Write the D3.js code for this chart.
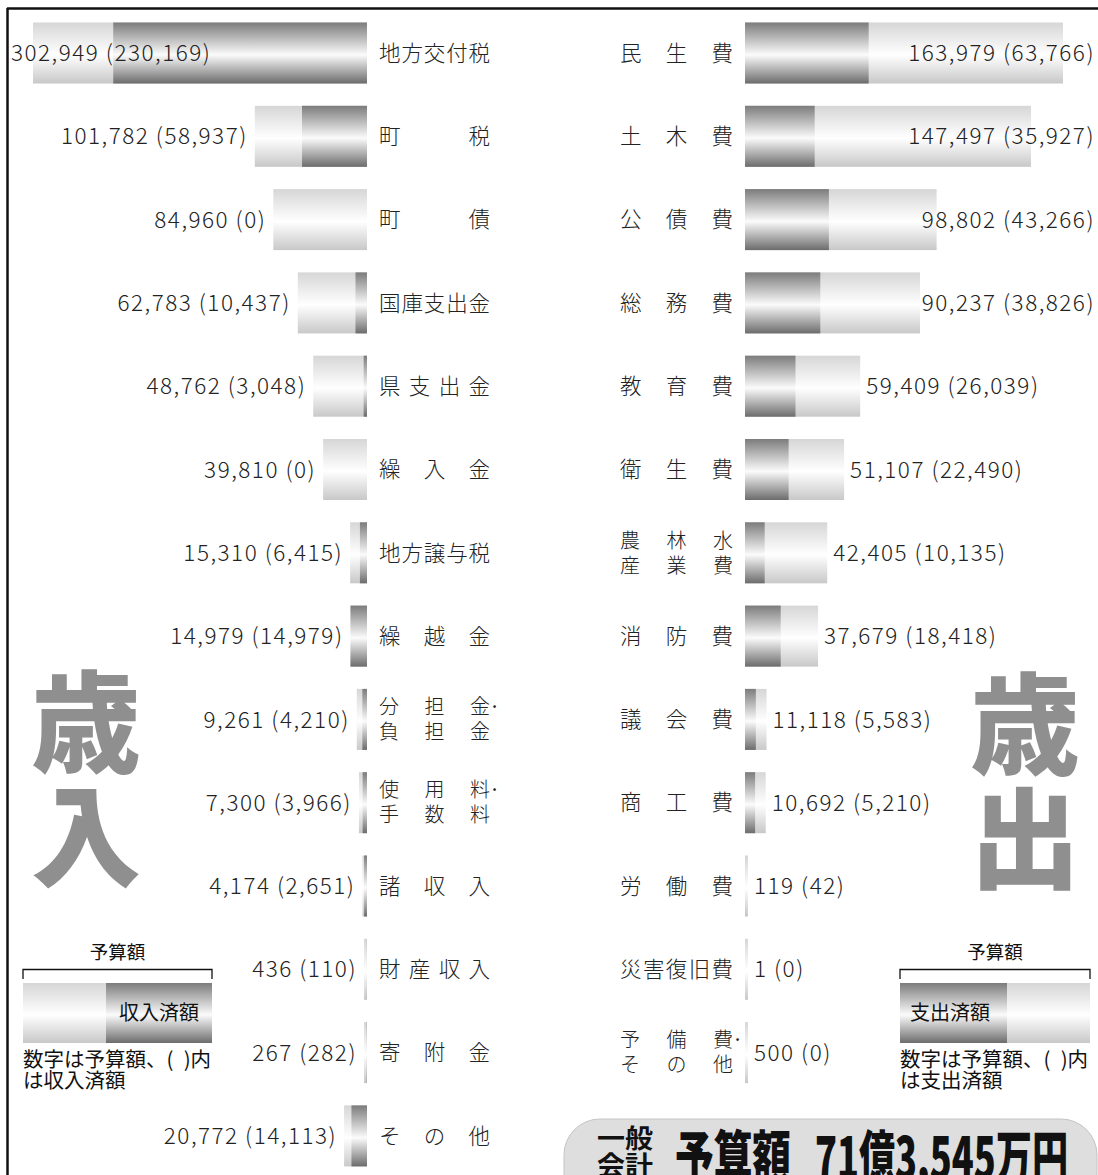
<!DOCTYPE html>
<html><head><meta charset="utf-8">
<script src="https://cdn.jsdelivr.net/npm/d3@7"></script>
<style>
html,body{margin:0;padding:0;background:#fff;}
svg{display:block;font-family:"Noto Sans CJK JP","Noto Sans",sans-serif;}
</style></head>
<body>
<svg id="chart" width="1098" height="1175"></svg>
<script>
// ---- data ----
const revenueCats = ["地方交付税","町税","町債","国庫支出金","県支出金","繰入金","地方譲与税","繰越金","分担金・負担金","使用料・手数料","諸収入","財産収入","寄附金","その他"];
const revenueLabelLines = [["地方交付税"],["町税"],["町債"],["国庫支出金"],["県支出金"],["繰入金"],["地方譲与税"],["繰越金"],["分担金·","負担金"],["使用料·","手数料"],["諸収入"],["財産収入"],["寄附金"],["その他"]];
const revenueBudget = [302949,101782,84960,62783,48762,39810,15310,14979,9261,7300,4174,436,267,20772];
const revenueDone   = [230169,58937,0,10437,3048,0,6415,14979,4210,3966,2651,110,282,14113];

const expenseCats = ["民生費","土木費","公債費","総務費","教育費","衛生費","農林水産業費","消防費","議会費","商工費","労働費","災害復旧費","予備費・その他"];
const expenseLabelLines = [["民生費"],["土木費"],["公債費"],["総務費"],["教育費"],["衛生費"],["農林水","産業費"],["消防費"],["議会費"],["商工費"],["労働費"],["災害復旧費"],["予備費·","その他"]];
const expenseBudget = [163979,147497,98802,90237,59409,51107,42405,37679,11118,10692,119,1,500];
const expenseDone   = [63766,35927,43266,38826,26039,22490,10135,18418,5583,5210,42,0,0];

const totalTitle = "予算額";
const totalValue = "71億3,545万円";
const accountLines = ["一般","会計"];

// ---- layout ----
const svg = d3.select("#chart");
const fmt = d3.format(",");

const defs = svg.append("defs");
function grad(id, stops){
  const g = defs.append("linearGradient").attr("id",id).attr("x1",0).attr("y1",0).attr("x2",0).attr("y2",1);
  stops.forEach(s=>g.append("stop").attr("offset",s[0]).attr("stop-color",s[1]));
}
grad("gDark",[[0,"#7c7c7c"],[0.53,"#fbfbfb"],[1,"#6c6c6c"]]);
grad("gLight",[[0,"#d6d6d6"],[0.53,"#ffffff"],[1,"#c8c8c8"]]);

// frame
svg.append("line").attr("x1",7).attr("x2",1098).attr("y1",8.5).attr("y2",8.5).attr("stroke","#111").attr("stroke-width",2.5);
svg.append("line").attr("x1",7.5).attr("x2",7.5).attr("y1",8).attr("y2",1175).attr("stroke","#111").attr("stroke-width",2.5);

const rowY = d3.scaleLinear().domain([0,1]).range([53, 136.3]);
const barH = 61;

const xRev = d3.scaleLinear().domain([0, d3.max(revenueBudget)]).range([0, 334]);
const xExp = d3.scaleLinear().domain([0, d3.max(expenseBudget)]).range([0, 318]);

const revRight = 367;   // bars grow leftwards from here
const expLeft = 745;    // bars grow rightwards from here
const numFS = 22.5;

function drawLabel(g, lines, x0, spanW, cy, fsSingle, fsDouble){
  const fs = lines.length > 1 ? fsDouble : fsSingle;
  const lh = 25;
  lines.forEach((ln, li)=>{
    let dot = "";
    let s = ln;
    if (s.endsWith("·")) { dot = "·"; s = s.slice(0,-1); }
    const chars = Array.from(s);
    const n = chars.length;
    const cw = fs;
    const step = n > 1 ? (spanW - cw)/(n-1) : 0;
    const y = cy + (lines.length>1 ? (li - 0.5)*lh : 0);
    chars.forEach((c,i)=>{
      g.append("text").attr("x", x0 + i*step).attr("y", y).attr("dy","0.36em")
        .attr("font-size",fs).attr("font-weight",300).attr("fill","#222").text(c);
    });
    if (dot) {
      g.append("text").attr("x", x0 + (n-1)*step + cw - 1).attr("y", y).attr("dy","0.36em")
        .attr("font-size",fs).attr("fill","#222").text(dot);
    }
  });
}
function numText(g, b, d, cy){
  return g.append("text").attr("y", cy).attr("dy","0.36em").attr("font-size",numFS).attr("font-weight",300)
    .attr("letter-spacing",1.5).attr("fill","#222").text(`${fmt(b)} (${fmt(d)})`);
}

// revenue (left)
const rev = svg.append("g");
revenueCats.forEach((cat,i)=>{
  const cy = rowY(i);
  const w = Math.max(xRev(revenueBudget[i]), 3);
  const wd = Math.min(xRev(revenueDone[i]), xRev(revenueBudget[i]));
  rev.append("rect").attr("x", revRight - w).attr("y", cy - barH/2).attr("width", w).attr("height", barH).attr("fill","url(#gLight)");
  if (wd > 0) rev.append("rect").attr("x", revRight - wd).attr("y", cy - barH/2).attr("width", wd).attr("height", barH).attr("fill","url(#gDark)");
  const t = numText(rev, revenueBudget[i], revenueDone[i], cy);
  const tl = t.node().getComputedTextLength();
  let xe = revRight - w - 7;
  if (xe - tl < 10) { t.attr("x", 11).attr("text-anchor","start"); }
  else t.attr("x", xe).attr("text-anchor","end");
  drawLabel(rev, revenueLabelLines[i], 379, 111, cy, 21.5, 20);
});

// expenditure (right)
const exp = svg.append("g");
expenseCats.forEach((cat,i)=>{
  const cy = rowY(i);
  const w = Math.max(xExp(expenseBudget[i]), 3);
  const wd = Math.min(xExp(expenseDone[i]), xExp(expenseBudget[i]));
  exp.append("rect").attr("x", expLeft).attr("y", cy - barH/2).attr("width", w).attr("height", barH).attr("fill","url(#gLight)");
  if (wd > 0) exp.append("rect").attr("x", expLeft).attr("y", cy - barH/2).attr("width", wd).attr("height", barH).attr("fill","url(#gDark)");
  const t = numText(exp, expenseBudget[i], expenseDone[i], cy);
  const tl = t.node().getComputedTextLength();
  let xs = expLeft + w + 6;
  if (xs + tl > 1095) { t.attr("x", 1095).attr("text-anchor","end"); }
  else t.attr("x", xs).attr("text-anchor","start");
  drawLabel(exp, expenseLabelLines[i], 620, 113, cy, 21.5, 20);
});

// big characters
const big = svg.append("g").attr("fill","#8f8f8f").attr("font-weight",900).attr("font-size",110).attr("text-anchor","middle");
big.append("text").attr("x",86).attr("y",724).attr("dy","0.36em").text("歳");
big.append("text").attr("x",86).attr("y",838).attr("dy","0.36em").text("入");
big.append("text").attr("x",1025).attr("y",726).attr("dy","0.36em").text("歳");
big.append("text").attr("x",1025).attr("y",840).attr("dy","0.36em").text("出");

// legends
function legend(x0, x1, darkLeft, darkW, darkLabel, labelX, caption2){
  const g = svg.append("g");
  g.append("text").attr("x",(x0+x1)/2).attr("y",952).attr("dy","0.36em").attr("text-anchor","middle").attr("font-size",18.5).attr("fill","#111").text("予算額");
  g.append("path").attr("d",`M${x0},979V969.5H${x1}V979`).attr("fill","none").attr("stroke","#111").attr("stroke-width",1.3);
  g.append("rect").attr("x",x0).attr("y",983).attr("width",x1-x0).attr("height",60).attr("fill","url(#gLight)");
  g.append("rect").attr("x",darkLeft).attr("y",983).attr("width",darkW).attr("height",60).attr("fill","url(#gDark)");
  g.append("text").attr("x",labelX).attr("y",1013).attr("dy","0.36em").attr("text-anchor","middle").attr("font-size",20).attr("fill","#111").text(darkLabel);
  g.append("text").attr("x",x0).attr("y",1060).attr("dy","0.36em").attr("font-size",20.5).attr("fill","#111").text("数字は予算額、(\u2002)内");
  g.append("text").attr("x",x0).attr("y",1081).attr("dy","0.36em").attr("font-size",20.5).attr("fill","#111").text(caption2);
}
legend(23, 212, 106, 106, "収入済額", 159, "は収入済額");
legend(900, 1090, 900, 107, "支出済額", 950, "は支出済額");

// total pill
const pill = svg.append("g");
pill.append("rect").attr("x",564).attr("y",1119).attr("width",533).attr("height",90).attr("rx",36)
  .attr("fill","#dedede").attr("stroke","#c4c4c4").attr("stroke-width",1);
pill.append("text").attr("x",597).attr("y",1139).attr("dy","0.34em").attr("font-size",26).attr("font-weight",700).attr("fill","#111")
  .attr("textLength",56).attr("lengthAdjust","spacingAndGlyphs").text(accountLines[0]);
pill.append("text").attr("x",597).attr("y",1166).attr("dy","0.34em").attr("font-size",26).attr("font-weight",700).attr("fill","#111")
  .attr("textLength",56).attr("lengthAdjust","spacingAndGlyphs").text(accountLines[1]);
pill.append("text").attr("x",675).attr("y",1179).attr("font-size",58).attr("font-weight",900).attr("fill","#111")
  .attr("textLength",116).attr("lengthAdjust","spacingAndGlyphs").text(totalTitle);
pill.append("text").attr("x",815).attr("y",1179).attr("font-size",58).attr("font-weight",900).attr("fill","#111")
  .attr("textLength",253).attr("lengthAdjust","spacingAndGlyphs").text(totalValue);
</script>
</body></html>
